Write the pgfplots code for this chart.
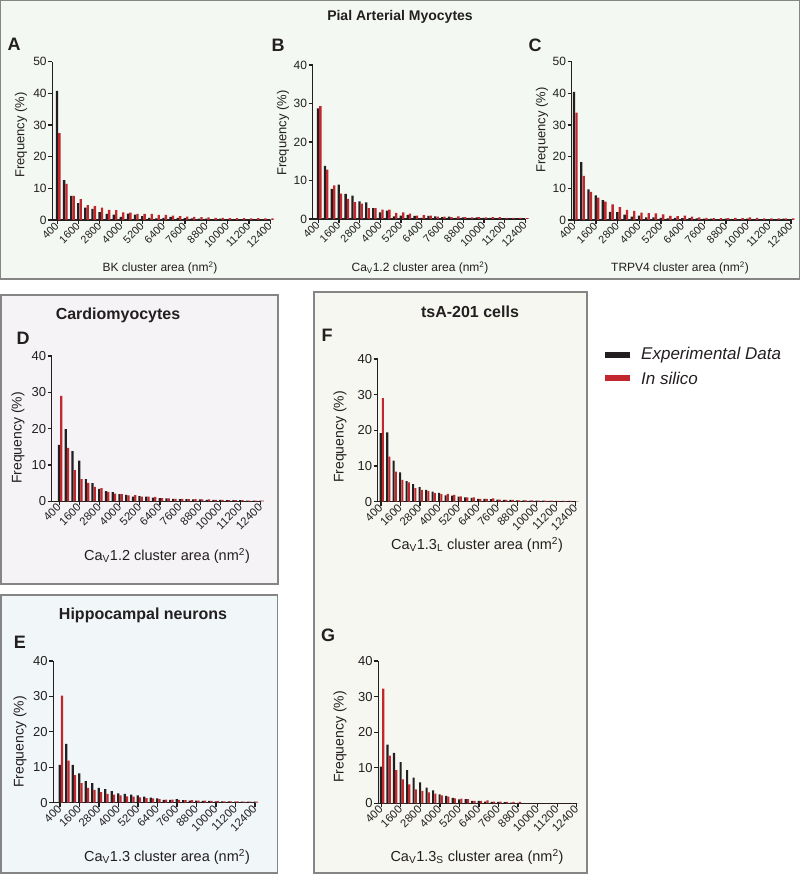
\documentclass[border=0pt]{standalone}
\usepackage{pgfplots}
\pgfplotsset{compat=1.18}
\usepackage{pgfplotstable}
\usepackage{fontspec}
\setmainfont{Liberation Sans}
\definecolor{expc}{HTML}{231F20}
\definecolor{silc}{HTML}{C1272D}
\definecolor{topbg}{HTML}{F3F8F2}
\definecolor{dbg}{HTML}{F5F3F5}
\definecolor{ebg}{HTML}{F1F6F8}
\definecolor{fgbg}{HTML}{F7F7F1}
\definecolor{boxc}{HTML}{858585}

\pgfplotstableread{
b e r
0 40.8 27.4
1 12.6 11.4
2 7.6 7.6
3 5.3 6.6
4 3.9 4.7
5 3.5 4.4
6 2.5 3.9
7 1.9 3.2
8 1.7 3.1
9 1.0 2.4
10 2.0 2.3
11 1.7 1.9
12 1.2 1.9
13 0.7 1.9
14 0.5 1.6
15 0.7 1.6
16 1.0 1.4
17 0.7 1.2
18 0.6 1.1
19 0.5 1.0
20 0.4 0.9
21 0.4 0.8
22 0.3 0.7
23 0.4 0.7
24 0.3 0.6
25 0.3 0.6
26 0.3 0.6
27 0.2 0.5
28 0.3 0.6
29 0.2 0.5
30 0.2 0.5
}\tabA
\pgfplotstableread{
b e r
0 28.7 29.3
1 13.8 12.8
2 7.8 8.7
3 8.9 6.6
4 6.5 5.2
5 6.1 4.4
6 4.6 4.0
7 4.3 2.8
8 2.8 2.8
9 1.7 2.4
10 2.2 2.4
11 0.7 1.6
12 0.9 1.7
13 1.1 1.4
14 0.8 0.9
15 0.3 1.0
16 0.8 0.9
17 0.7 0.6
18 0.5 0.6
19 0.6 0.5
20 0.3 0.7
21 0.4 0.5
22 0.3 0.4
23 0.4 0.5
24 0.3 0.4
25 0.3 0.5
26 0.2 0.5
27 0.2 0.3
28 0.2 0.3
29 0.2 0.3
30 0.1 0.2
}\tabB
\pgfplotstableread{
b e r
0 40.5 33.9
1 18.3 13.9
2 9.7 8.9
3 7.8 7.1
4 6.3 5.8
5 2.6 4.9
6 2.5 4.1
7 1.7 3.2
8 1.1 2.9
9 1.4 2.3
10 0.8 2.2
11 0.8 2.1
12 0.7 1.8
13 0.5 1.3
14 0.7 1.2
15 0.6 1.4
16 0.6 1.1
17 0.5 0.8
18 0.4 0.7
19 0.4 0.6
20 0.3 0.6
21 0.4 0.6
22 0.3 0.7
23 0.3 0.6
24 0.4 0.8
25 0.3 0.7
26 0.3 0.5
27 0.3 0.5
28 0.3 0.5
29 0.4 0.5
30 0.3 0.5
}\tabC
\pgfplotstableread{
b e r
0 15.5 29.0
1 19.9 14.7
2 13.8 8.6
3 11.2 6.1
4 6.1 5.1
5 5.0 4.0
6 3.4 3.6
7 2.8 2.6
8 2.5 2.1
9 2.0 2.0
10 1.8 1.6
11 1.3 1.7
12 1.4 1.3
13 1.3 1.3
14 1.0 1.2
15 0.9 0.9
16 0.8 0.8
17 0.7 0.7
18 0.6 0.7
19 0.6 0.6
20 0.5 0.6
21 0.5 0.5
22 0.4 0.5
23 0.4 0.4
24 0.4 0.4
25 0.3 0.3
26 0.3 0.3
27 0.3 0.3
28 0.2 0.2
29 0.2 0.2
30 0.2 0.2
}\tabD
\pgfplotstableread{
b e r
0 10.7 30.2
1 16.6 11.9
2 10.7 7.8
3 8.3 5.5
4 6.1 4.2
5 5.5 3.6
6 4.2 3.0
7 3.8 2.5
8 3.3 2.3
9 2.6 2.1
10 2.5 1.8
11 2.3 1.7
12 2.1 1.5
13 1.7 1.3
14 1.4 1.2
15 1.2 1.0
16 0.8 0.9
17 0.8 0.9
18 1.0 0.8
19 0.7 0.7
20 0.6 0.7
21 0.6 0.6
22 0.5 0.6
23 0.5 0.5
24 0.4 0.5
25 0.4 0.4
26 0.4 0.4
27 0.3 0.4
28 0.3 0.3
29 0.3 0.3
30 0.3 0.3
}\tabE
\pgfplotstableread{
b e r
0 19.2 29.0
1 19.4 12.6
2 11.5 8.4
3 8.2 6.1
4 5.8 5.4
5 4.9 3.8
6 4.1 3.3
7 3.3 3.0
8 2.8 2.4
9 2.5 2.1
10 1.8 2.2
11 1.7 1.9
12 1.4 1.5
13 1.2 1.2
14 1.1 1.2
15 0.8 0.8
16 0.8 0.8
17 0.7 0.9
18 0.6 0.6
19 0.5 0.5
20 0.5 0.5
21 0.4 0.4
22 0.4 0.4
23 0.3 0.4
24 0.3 0.3
25 0.3 0.3
26 0.2 0.3
27 0.2 0.2
28 0.2 0.2
29 0.2 0.2
30 0.1 0.1
}\tabF
\pgfplotstableread{
b e r
0 10.3 32.2
1 16.5 13.4
2 14.2 9.3
3 11.6 6.7
4 9.3 5.3
5 7.2 3.9
6 5.9 3.5
7 4.4 3.1
8 3.6 2.7
9 2.5 2.2
10 2.1 1.9
11 1.5 1.4
12 1.1 1.3
13 1.2 1.2
14 0.7 0.7
15 0.7 0.7
16 0.5 0.8
17 0.4 0.5
18 0.4 0.5
19 0.3 0.4
20 0.2 0.4
21 0.1 0.4
22 0 0
23 0 0
24 0 0
25 0 0
26 0 0
27 0 0
28 0 0
29 0 0
30 0 0
}\tabG

\pgfplotsset{
  panel/.style={
    scale only axis, anchor=south west,
    axis x line*=bottom, axis y line*=left,
    xmax=30, ymin=0,
    xtick={0,3,...,30},
    xticklabels={400,1600,2800,4000,5200,6400,7600,8800,10000,11200,12400},
    tick align=outside, major tick length=4pt,
    axis line style={line width=1.4pt, color=expc, -},
    tick style={line width=1.2pt, color=expc},
    xticklabel style={rotate=45, anchor=east, inner sep=0.5pt, text=expc},
    yticklabel style={inner sep=1.5pt, text=expc},
    /pgf/number format/assume math mode=true,
    clip=false, ybar, bar width=0.33, bar shift=0pt,
  },
  small/.style={xticklabel style={font=\fontsize{10.8}{10.8}\selectfont}, yticklabel style={font=\fontsize{12}{12}\selectfont}},
  big/.style={xticklabel style={font=\fontsize{11.3}{11.3}\selectfont}, yticklabel style={font=\fontsize{13}{13}\selectfont}},
}

\newcommand{\panel}[8]{%
\begin{axis}[panel, #8, at={(#1pt,#2pt)}, width=#3pt, height=#4pt, xmin=#5, ymax=#6, ytick={0,10,...,#6}]
\addplot[fill=expc, draw=none] table[x expr=\thisrow{b}-0.04, y=e]{#7};
\addplot[fill=silc, draw=none] table[x expr=\thisrow{b}+0.30, y=r]{#7};
\end{axis}}

\begin{document}
\begin{tikzpicture}
\path[use as bounding box] (0pt,0pt) rectangle (800pt,874pt);
% boxes
\filldraw[fill=topbg, draw=boxc, line width=1.2pt] (0.6pt,595pt) rectangle (799.2pt,873.4pt);
\filldraw[fill=dbg, draw=boxc, line width=1.2pt] (1pt,290pt) rectangle (278pt,579pt);
\filldraw[fill=ebg, draw=boxc, line width=1.2pt] (1pt,1pt) rectangle (277.5pt,279pt);
\filldraw[fill=fgbg, draw=boxc, line width=1.2pt] (314pt,1pt) rectangle (587pt,582pt);

% panels
\panel{52.3}{654}{218}{158.3}{-0.7}{50}{\tabA}{small}
\panel{312.7}{655}{212.6}{154}{-0.81}{40}{\tabB}{small}
\panel{571.7}{654}{219.3}{158.3}{-0.36}{50}{\tabC}{small}
\panel{51.7}{372.7}{209}{145.3}{-1.13}{40}{\tabD}{big}
\panel{53.3}{71.3}{201.7}{141.7}{-1.03}{40}{\tabE}{big}
\panel{377.7}{372.3}{198}{142.7}{-0.5}{40}{\tabF}{big}
\panel{378.3}{70.7}{198.4}{142.3}{-0.46}{40}{\tabG}{big}

% titles
\node[font=\fontsize{14}{14}\selectfont\bfseries, text=expc] at (400pt,857pt) {Pial Arterial Myocytes};
\node[font=\fontsize{16}{16}\selectfont\bfseries, text=expc] at (118pt,559pt) {Cardiomyocytes};
\node[font=\fontsize{16}{16}\selectfont\bfseries, text=expc] at (143pt,259pt) {Hippocampal neurons};
\node[font=\fontsize{16}{16}\selectfont\bfseries, text=expc] at (470pt,562pt) {tsA-201 cells};
% letters
\node[font=\fontsize{18}{18}\selectfont\bfseries, text=expc] at (14pt,830pt) {A};
\node[font=\fontsize{18}{18}\selectfont\bfseries, text=expc] at (278pt,829pt) {B};
\node[font=\fontsize{18}{18}\selectfont\bfseries, text=expc] at (535pt,829pt) {C};
\node[font=\fontsize{18}{18}\selectfont\bfseries, text=expc] at (23pt,536pt) {D};
\node[font=\fontsize{18}{18}\selectfont\bfseries, text=expc] at (20pt,232pt) {E};
\node[font=\fontsize{18}{18}\selectfont\bfseries, text=expc] at (327pt,539pt) {F};
\node[font=\fontsize{18}{18}\selectfont\bfseries, text=expc] at (328pt,239pt) {G};
% x labels
\node[font=\fontsize{12}{12}\selectfont, text=expc] at (160pt,606pt) {BK cluster area (nm\textsuperscript{2})};
\node[font=\fontsize{12}{12}\selectfont, text=expc] at (420pt,606pt) {Ca\textsubscript{V}1.2 cluster area (nm\textsuperscript{2})};
\node[font=\fontsize{12}{12}\selectfont, text=expc] at (680pt,606pt) {TRPV4 cluster area (nm\textsuperscript{2})};
\node[font=\fontsize{14.5}{14.5}\selectfont, text=expc] at (167pt,318pt) {Ca\textsubscript{V}1.2 cluster area (nm\textsuperscript{2})};
\node[font=\fontsize{14.5}{14.5}\selectfont, text=expc] at (167pt,17pt) {Ca\textsubscript{V}1.3 cluster area (nm\textsuperscript{2})};
\node[font=\fontsize{14.5}{14.5}\selectfont, text=expc] at (477pt,329pt) {Ca\textsubscript{V}1.3\textsubscript{L} cluster area (nm\textsuperscript{2})};
\node[font=\fontsize{14.5}{14.5}\selectfont, text=expc] at (477pt,17pt) {Ca\textsubscript{V}1.3\textsubscript{S} cluster area (nm\textsuperscript{2})};
% y labels
\node[rotate=90, font=\fontsize{13}{13}\selectfont, text=expc] at (21pt,739pt) {Frequency (\%)};
\node[rotate=90, font=\fontsize{13}{13}\selectfont, text=expc] at (283pt,741pt) {Frequency (\%)};
\node[rotate=90, font=\fontsize{13}{13}\selectfont, text=expc] at (542pt,744pt) {Frequency (\%)};
\node[rotate=90, font=\fontsize{14}{14}\selectfont, text=expc] at (18pt,436pt) {Frequency (\%)};
\node[rotate=90, font=\fontsize{14}{14}\selectfont, text=expc] at (20pt,132pt) {Frequency (\%)};
\node[rotate=90, font=\fontsize{14}{14}\selectfont, text=expc] at (340pt,437pt) {Frequency (\%)};
\node[rotate=90, font=\fontsize{14}{14}\selectfont, text=expc] at (340pt,137pt) {Frequency (\%)};
% legend
\fill[expc] (605pt,515.5pt) rectangle (630pt,522pt);
\fill[silc] (605pt,492.5pt) rectangle (630pt,499pt);
\node[anchor=west, font=\fontsize{17}{17}\selectfont\itshape, text=expc, inner sep=0pt] at (641pt,519pt) {Experimental Data};
\node[anchor=west, font=\fontsize{17}{17}\selectfont\itshape, text=expc, inner sep=0pt] at (641pt,496pt) {In silico};
\end{tikzpicture}
\end{document}
